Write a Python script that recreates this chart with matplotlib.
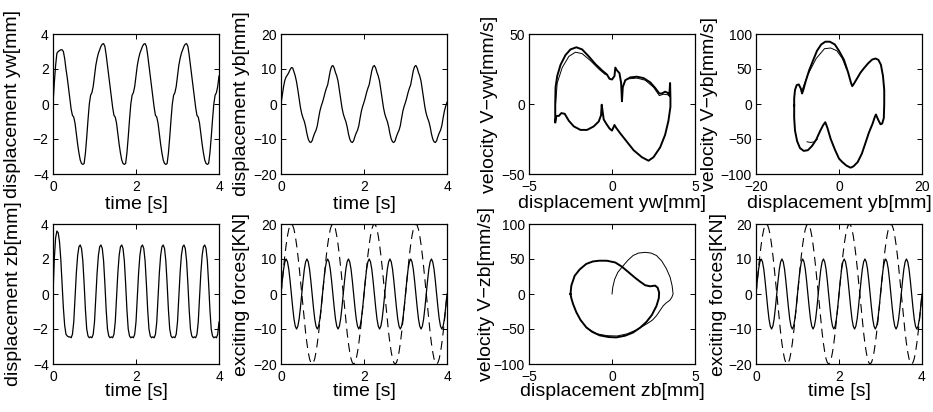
import numpy as np
import matplotlib
matplotlib.use('Agg')
import matplotlib.pyplot as plt

plt.rcParams['font.family'] = ['Liberation Sans', 'DejaVu Sans']

# time grid of the sampled signals (1/32 s)
t = np.linspace(0, 4, 129)

# lateral displacement of wheelset yw [mm]
yw = [0, 1.2, 2.2, 2.9, 3.0, 3.05, 3.1, 3.1, 3.0, 2.6, 2.0, 1.5, 0.9, 0.3, -0.3, -0.65,
      -0.75, -1.1, -1.7, -2.3, -2.8, -3.2, -3.4, -3.45, -3.4, -2.8, -1.9, -0.9, 0.0, 0.5, 0.65, 1.0,
      1.6, 2.2, 2.6, 2.9, 3.1, 3.3, 3.42, 3.45, 3.3, 2.8, 2.2, 1.6, 1.0, 0.4, -0.2, -0.65,
      -0.75, -1.1, -1.7, -2.3, -2.8, -3.2, -3.4, -3.45, -3.4, -2.8, -1.9, -0.9, 0.0, 0.5, 0.65, 1.0,
      1.6, 2.2, 2.6, 2.9, 3.1, 3.3, 3.42, 3.45, 3.3, 2.8, 2.2, 1.6, 1.0, 0.4, -0.2, -0.65,
      -0.75, -1.1, -1.7, -2.3, -2.8, -3.2, -3.4, -3.45, -3.4, -2.8, -1.9, -0.9, 0.0, 0.5, 0.65, 1.0,
      1.6, 2.2, 2.6, 2.9, 3.1, 3.3, 3.42, 3.45, 3.3, 2.8, 2.2, 1.6, 1.0, 0.4, -0.2, -0.65,
      -0.75, -1.1, -1.7, -2.3, -2.8, -3.2, -3.4, -3.45, -3.4, -2.8, -1.9, -0.9, 0.0, 0.5, 0.65, 1.0,
      1.6]

# lateral displacement of car body yb [mm]
yb = [0, 2.5, 5.0, 6.8, 7.8, 8.3, 9.0, 9.8, 10.4, 10.3, 9.2, 8.0, 6.3, 4.0, 1.5, -1.0,
      -2.8, -4.0, -5.0, -6.5, -8.5, -10.0, -10.8, -11.0, -10.5, -9.3, -8.3, -7.5, -6.2, -4.0, -2.0, -0.6,
      0.5, 1.8, 3.3, 4.5, 5.5, 7.5, 9.5, 10.7, 11.0, 10.3, 9.0, 8.0, 6.5, 4.0, 1.5, -1.0,
      -2.8, -4.0, -5.0, -6.5, -8.5, -10.0, -10.8, -11.0, -10.5, -9.3, -8.3, -7.5, -6.2, -4.0, -2.0, -0.6,
      0.5, 1.8, 3.3, 4.5, 5.5, 7.5, 9.5, 10.7, 11.0, 10.3, 9.0, 8.0, 6.5, 4.0, 1.5, -1.0,
      -2.8, -4.0, -5.0, -6.5, -8.5, -10.0, -10.8, -11.0, -10.5, -9.3, -8.3, -7.5, -6.2, -4.0, -2.0, -0.6,
      0.5, 1.8, 3.3, 4.5, 5.5, 7.5, 9.5, 10.7, 11.0, 10.3, 9.0, 8.0, 6.5, 4.0, 1.5, -1.0,
      -2.8, -4.0, -5.0, -6.5, -8.5, -10.0, -10.8, -11.0, -10.5, -9.3, -8.3, -7.5, -6.2, -4.0, -2.0, -0.6,
      0.5]

# vertical displacement of car body zb [mm]
zb = [0, 2.0, 3.2, 3.6, 3.5, 3.0, 2.0, 0.6, -0.8, -1.8, -2.3, -2.4, -2.45, -2.45, -2.5, -2.3,
      -1.6, -0.2, 1.2, 2.2, 2.7, 2.8, 2.6, 1.9, 0.6, -0.9, -2.0, -2.4, -2.5, -2.45, -2.5, -2.3,
      -1.6, -0.2, 1.2, 2.2, 2.7, 2.8, 2.6, 1.9, 0.6, -0.9, -2.0, -2.4, -2.5, -2.45, -2.5, -2.3,
      -1.6, -0.2, 1.2, 2.2, 2.7, 2.8, 2.6, 1.9, 0.6, -0.9, -2.0, -2.4, -2.5, -2.45, -2.5, -2.3,
      -1.6, -0.2, 1.2, 2.2, 2.7, 2.8, 2.6, 1.9, 0.6, -0.9, -2.0, -2.4, -2.5, -2.45, -2.5, -2.3,
      -1.6, -0.2, 1.2, 2.2, 2.7, 2.8, 2.6, 1.9, 0.6, -0.9, -2.0, -2.4, -2.5, -2.45, -2.5, -2.3,
      -1.6, -0.2, 1.2, 2.2, 2.7, 2.8, 2.6, 1.9, 0.6, -0.9, -2.0, -2.4, -2.5, -2.45, -2.5, -2.3,
      -1.6, -0.2, 1.2, 2.2, 2.7, 2.8, 2.6, 1.9, 0.6, -0.9, -2.0, -2.4, -2.5, -2.45, -2.5, -2.3,
      -1.6]

# exciting forces [KN]: solid and dashed curves
force_solid = [0, 3.8, 7.1, 9.2, 10, 9.2, 7.1, 3.8, 0, -3.8, -7.1, -9.2, -10, -9.2, -7.1, -3.8,
               0, 3.8, 7.1, 9.2, 10, 9.2, 7.1, 3.8, 0, -3.8, -7.1, -9.2, -10, -9.2, -7.1, -3.8,
               0, 3.8, 7.1, 9.2, 10, 9.2, 7.1, 3.8, 0, -3.8, -7.1, -9.2, -10, -9.2, -7.1, -3.8,
               0, 3.8, 7.1, 9.2, 10, 9.2, 7.1, 3.8, 0, -3.8, -7.1, -9.2, -10, -9.2, -7.1, -3.8,
               0, 3.8, 7.1, 9.2, 10, 9.2, 7.1, 3.8, 0, -3.8, -7.1, -9.2, -10, -9.2, -7.1, -3.8,
               0, 3.8, 7.1, 9.2, 10, 9.2, 7.1, 3.8, 0, -3.8, -7.1, -9.2, -10, -9.2, -7.1, -3.8,
               0, 3.8, 7.1, 9.2, 10, 9.2, 7.1, 3.8, 0, -3.8, -7.1, -9.2, -10, -9.2, -7.1, -3.8,
               0, 3.8, 7.1, 9.2, 10, 9.2, 7.1, 3.8, 0, -3.8, -7.1, -9.2, -10, -9.2, -7.1, -3.8,
               0]
force_dashed = [0, 3.9, 7.7, 11.1, 14.1, 16.6, 18.5, 19.6, 20, 19.6, 18.5, 16.6, 14.1, 11.1, 7.7, 3.9,
                0, -3.9, -7.7, -11.1, -14.1, -16.6, -18.5, -19.6, -20, -19.6, -18.5, -16.6, -14.1, -11.1, -7.7, -3.9,
                0, 3.9, 7.7, 11.1, 14.1, 16.6, 18.5, 19.6, 20, 19.6, 18.5, 16.6, 14.1, 11.1, 7.7, 3.9,
                0, -3.9, -7.7, -11.1, -14.1, -16.6, -18.5, -19.6, -20, -19.6, -18.5, -16.6, -14.1, -11.1, -7.7, -3.9,
                0, 3.9, 7.7, 11.1, 14.1, 16.6, 18.5, 19.6, 20, 19.6, 18.5, 16.6, 14.1, 11.1, 7.7, 3.9,
                0, -3.9, -7.7, -11.1, -14.1, -16.6, -18.5, -19.6, -20, -19.6, -18.5, -16.6, -14.1, -11.1, -7.7, -3.9,
                0, 3.9, 7.7, 11.1, 14.1, 16.6, 18.5, 19.6, 20, 19.6, 18.5, 16.6, 14.1, 11.1, 7.7, 3.9,
                0, -3.9, -7.7, -11.1, -14.1, -16.6, -18.5, -19.6, -20, -19.6, -18.5, -16.6, -14.1, -11.1, -7.7, -3.9,
                0]

# phase portrait yw: main limit cycle and the thinner first pass
pyw_x = [-3.42, -3.42, -3.40, -3.3, -3.1, -2.8, -2.5, -2.15, -1.8, -1.4, -1.0, -0.6, -0.3, -0.15, 0.0,
         0.15, 0.2, 0.3, 0.45, 0.55, 0.6, 0.65, 0.8, 1.1, 1.5, 1.9, 2.3, 2.6, 2.85, 3.0, 3.2, 3.35,
         3.45, 3.5, 3.52, 3.52, 3.4, 3.2, 2.9, 2.5, 2.2, 1.8, 1.3, 0.9, 0.5, 0.25, 0.15, 0.0, -0.15,
         -0.35, -0.5, -0.58, -0.62, -0.66, -0.8, -1.1, -1.5, -1.9, -2.3, -2.6, -2.85, -3.05, -3.2,
         -3.35, -3.42]
pyw_v = [-13, 0, 12, 20, 28, 35, 39, 40.5, 39, 34, 28.5, 24, 21, 18, 17.5,
         20, 26, 24, 22, 15, 2, 12, 17, 19, 19.5, 18.5, 15.5, 11.5, 7.5, 7.5, 8.8, 8.0,
         6, 15, 4, -2, -12, -22, -31, -38, -40.5, -38, -33, -27, -21, -17, -15, -19, -17.5,
         -14, -11, -4, -0.5, -8, -12.5, -16, -18.5, -18.5, -16, -12, -7, -6.5, -8.5,
         -8.5, -13]
pyw2_x = [-3.4, -3.3, -3.0, -2.6, -2.2, -1.8, -1.3, -0.8, -0.4]
pyw2_v = [0, 15, 26, 34, 37, 36, 31, 25, 21]
pyw3_x = [1.0, 1.5, 2.0, 2.5, 2.85, 3.1, 3.4]
pyw3_v = [18, 18.5, 17, 12, 6, 7, 6.5]

# phase portrait yb
pyb_x = [-10.8, -10.8, -10.6, -10.2, -9.7, -9.2, -8.9, -8.6, -8.0, -7.2, -6.2, -5.3, -4.3, -3.3,
         -2.2, -1.0, 0.0, 1.2, 2.2, 2.9, 3.2, 3.6, 4.4, 5.2, 6.0, 7.0, 8.0, 8.8, 9.5, 10.1, 10.6,
         10.9, 10.9, 10.8, 10.4, 10.0, 9.4, 8.9, 8.6, 8.1, 7.2, 6.3, 5.5, 4.5, 3.5, 2.8, 1.8, 0.8,
         0.0, -1.0, -2.0, -2.8, -3.3, -3.8, -4.5, -5.5, -6.5, -7.5, -8.5, -9.4, -10.1, -10.6,
         -10.8, -10.8]
pyb_v = [-2, 8, 20, 27, 28, 22, 15, 20, 33, 48, 63, 76, 85, 89,
         89, 85, 76, 63, 45, 30, 25.5, 29, 37, 45, 51, 58, 63.5, 65, 63, 56, 40,
         20, 0, -20, -28, -29, -22, -15, -19, -28, -41, -57, -71, -83, -89, -91, -88, -83,
         -78, -65, -50, -34, -26, -30, -38, -51, -60, -66, -67, -63, -53, -38,
         -20, -2]
pyb2_x = [-9.0, -7.5, -5.5, -3.5, -2.0, -0.5, 0.8, 1.8]
pyb2_v = [18, 42, 65, 79, 80, 76, 65, 50]
pyb3_x = [-7.7, -6.8, -6.0, -5.2]
pyb3_v = [-54, -55, -54, -50]

# phase portrait zb
pzb_x = [-2.5, -2.45, -2.25, -1.95, -1.55, -1.15, -0.75, -0.3, 0.2, 0.6, 1.0, 1.4, 1.7, 2.0, 2.3,
         2.6, 2.75, 2.84, 2.82, 2.68, 2.4, 2.07, 1.7, 1.27, 0.8, 0.26, -0.2, -0.75, -1.2, -1.55,
         -1.9, -2.15, -2.35, -2.45, -2.5]
pzb_v = [0, 12, 26, 35, 43, 46.5, 47.6, 47.5, 45, 39, 31, 23, 17.5, 12.5, 11,
         12, 9, 2, -6, -17, -30, -40, -48, -55, -59.5, -62, -61.5, -59, -54, -47.6,
         -37, -26, -14, -6, 0]
pzb2_x = [0, 0.05, 0.16, 0.35, 0.66, 0.95, 1.27, 1.6, 2.0, 2.35, 2.68, 3.0, 3.28, 3.5, 3.62,
          3.68, 3.6, 3.48, 3.25, 3.08, 2.88, 2.68, 2.45, 2.27, 2.0, 1.5, 0.9, 0.3, -0.3, -0.9, -1.5]
pzb2_v = [0, 10, 21, 31, 40, 48, 55, 58.5, 59.5, 58.5, 55, 47, 36, 24, 12,
          0, -5, -9, -13, -17, -24, -31, -37, -40, -44, -51, -57, -60, -59.5, -57, -49]

W, H = 166 / 933, 140 / 412
lefts = [53 / 933, 281 / 933, 529 / 933, 756 / 933]
top_b = (412 - 174) / 412
bot_b = (412 - 364) / 412

fig = plt.figure(figsize=(9.33, 4.12), dpi=100)


def make_ax(col, bottom, xlim, ylim, xt, yt, xl, yl, ylx, xly):
    ax = fig.add_axes([lefts[col], bottom, W, H])
    ax.set_xlim(xlim)
    ax.set_ylim(ylim)
    ax.set_xticks(xt)
    ax.set_yticks(yt)
    ax.tick_params(direction='in', top=True, right=True, length=3.5, width=0.7,
                   labelsize=10, pad=3)
    ax.tick_params(axis='x', pad=4.5)
    for s in ax.spines.values():
        s.set_linewidth(0.9)
    ax.set_xlabel(xl, fontsize=14)
    ax.xaxis.label.set_va('center')
    ax.xaxis.set_label_coords(0.5, xly)
    ax.set_ylabel(yl, fontsize=14)
    ax.yaxis.set_label_coords(ylx, 0.5)
    return ax


lc = 'black'
dash = (0, (8, 5))

ax1 = make_ax(0, top_b, (0, 4), (-4, 4), [0, 2, 4], [-4, -2, 0, 2, 4],
              'time [s]', 'displacement yw[mm]', -0.19, -0.215)
ax1.plot(t, yw, color=lc, lw=0.9)

ax2 = make_ax(1, top_b, (0, 4), (-20, 20), [0, 2, 4], [-20, -10, 0, 10, 20],
              'time [s]', 'displacement yb[mm]', -0.186, -0.215)
ax2.plot(t, yb, color=lc, lw=0.9)

ax3 = make_ax(2, top_b, (-5, 5), (-50, 50), [-5, 0, 5], [-50, 0, 50],
              'displacement yw[mm]', 'velocity V\u2212yw[mm/s]', -0.186, -0.21)
ax3.plot(pyw_x, pyw_v, color=lc, lw=1.4)
ax3.plot(pyw2_x, pyw2_v, color=lc, lw=0.7)
ax3.plot(pyw3_x, pyw3_v, color=lc, lw=0.7)

ax4 = make_ax(3, top_b, (-20, 20), (-100, 100), [-20, 0, 20], [-100, -50, 0, 50, 100],
              'displacement yb[mm]', 'velocity V\u2212yb[mm/s]', -0.23, -0.21)
ax4.plot(pyb_x, pyb_v, color=lc, lw=1.4)
ax4.plot(pyb2_x, pyb2_v, color=lc, lw=0.7)
ax4.plot(pyb3_x, pyb3_v, color=lc, lw=0.7)

ax5 = make_ax(0, bot_b, (0, 4), (-4, 4), [0, 2, 4], [-4, -2, 0, 2, 4],
              'time [s]', 'displacement zb[mm]', -0.186, -0.2)
ax5.plot(t, zb, color=lc, lw=0.9)

for col in (1, 3):
    ax = make_ax(col, bot_b, (0, 4), (-20, 20), [0, 2, 4], [-20, -10, 0, 10, 20],
                 'time [s]', 'exciting forces[KN]', -0.186 if col == 1 else -0.175, -0.2)
    ax.plot(t, force_solid, color=lc, lw=0.9)
    ax.plot(t, force_dashed, color=lc, lw=0.8, linestyle=dash)

ax7 = make_ax(2, bot_b, (-5, 5), (-100, 100), [-5, 0, 5], [-100, -50, 0, 50, 100],
              'displacement zb[mm]', 'velocity V\u2212zb[mm/s]', -0.205, -0.2)
ax7.plot(pzb_x, pzb_v, color=lc, lw=1.4)
ax7.plot(pzb2_x, pzb2_v, color=lc, lw=0.7)

fig.savefig('out.png', dpi=100)
